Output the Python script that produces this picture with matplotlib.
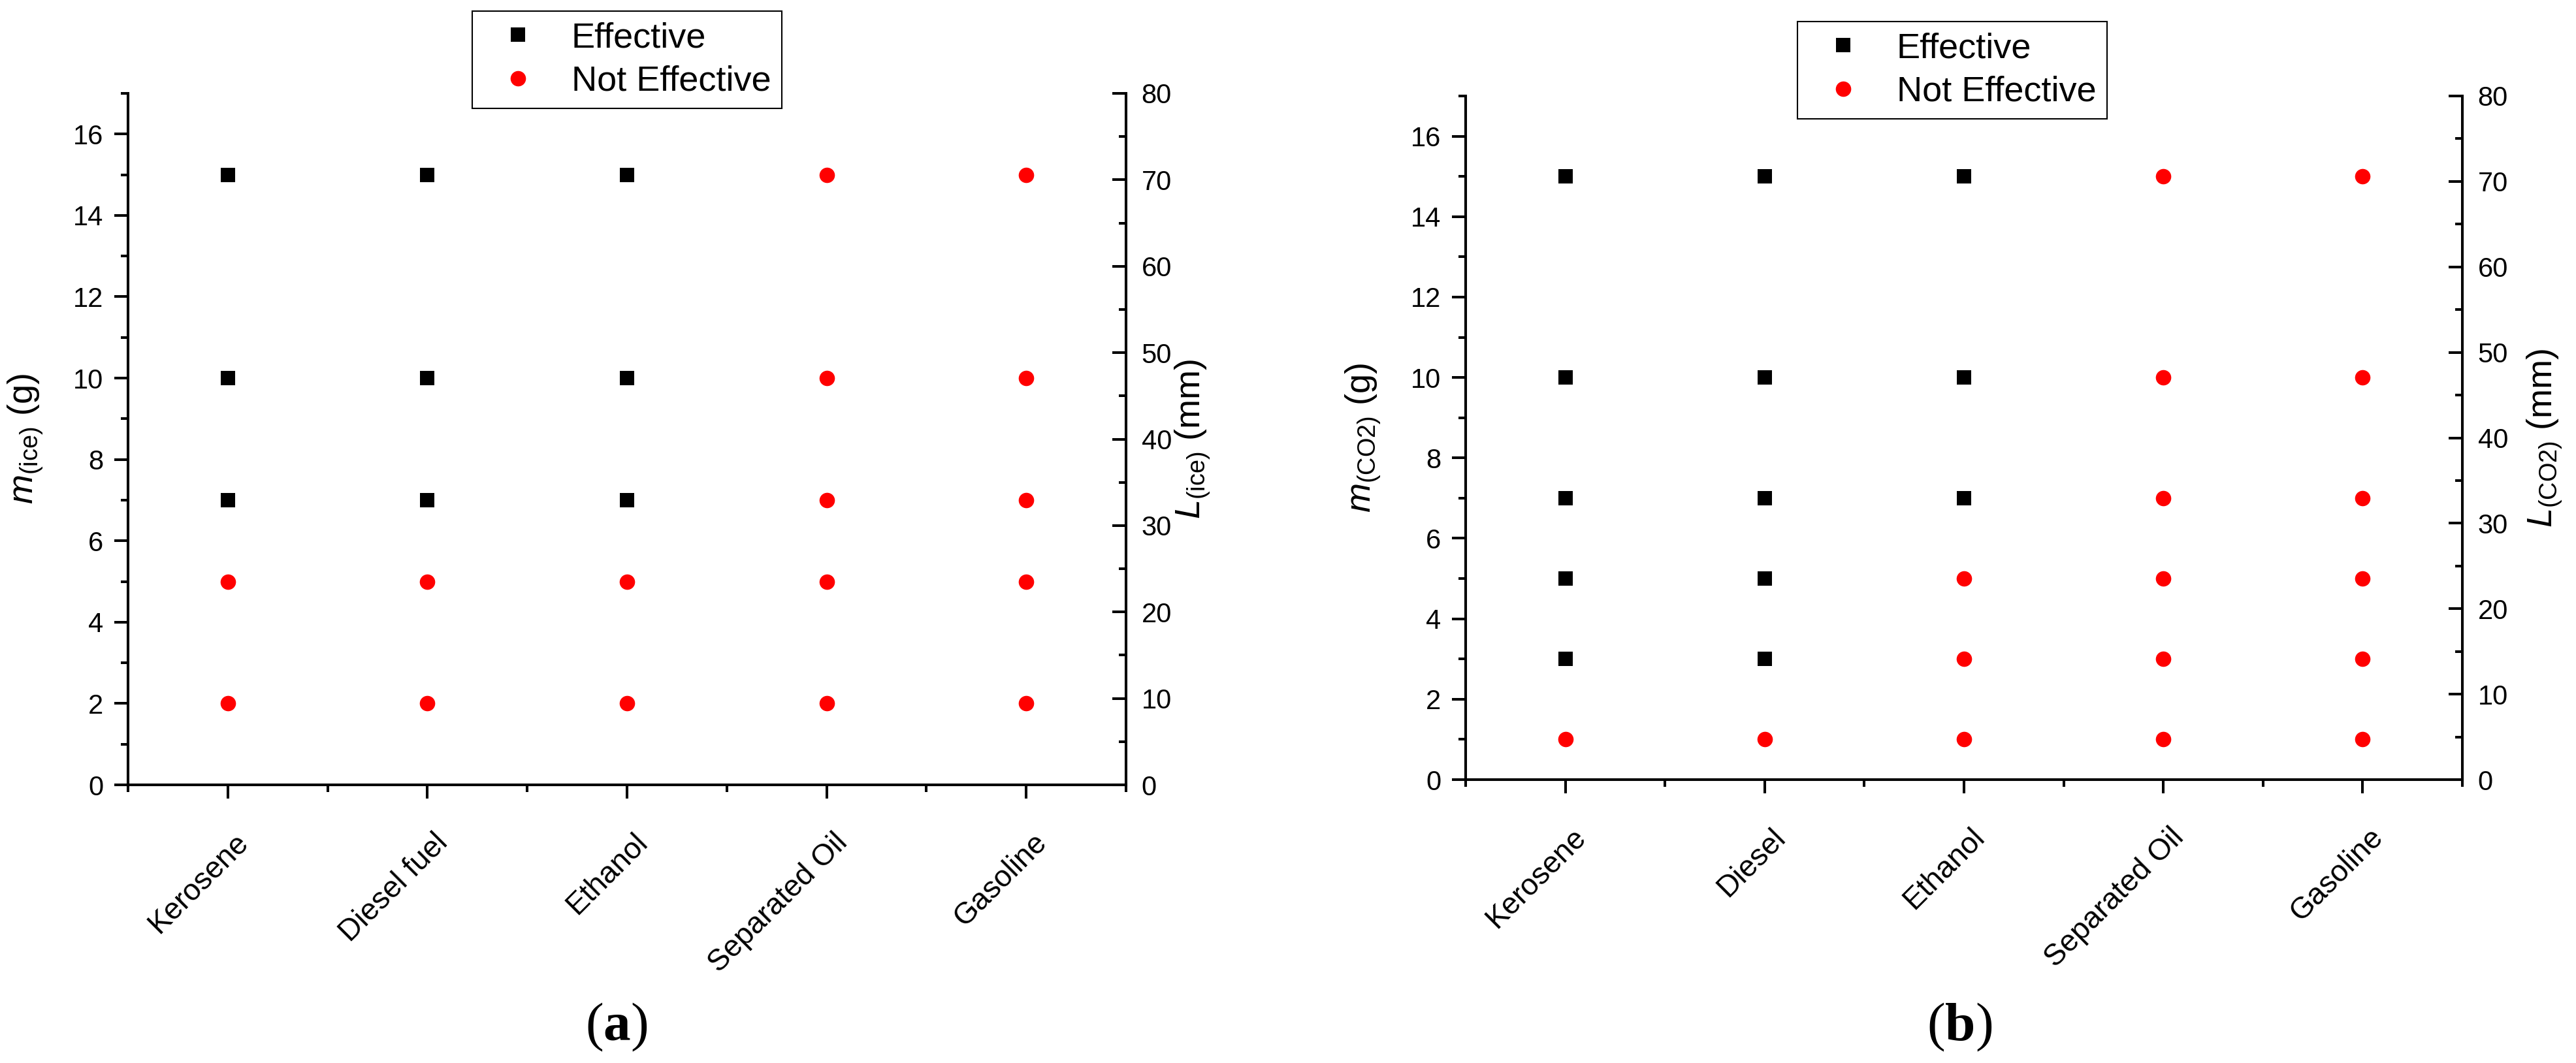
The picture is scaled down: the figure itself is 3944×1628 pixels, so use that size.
import matplotlib
matplotlib.use('Agg')
import matplotlib.pyplot as plt
from matplotlib.ticker import MultipleLocator
from matplotlib.transforms import ScaledTranslation

plt.rcParams['font.family'] = ['Liberation Sans', 'DejaVu Sans']
plt.rcParams['mathtext.fontset'] = 'custom'
plt.rcParams['mathtext.rm'] = 'Liberation Sans'
plt.rcParams['mathtext.it'] = 'Liberation Sans:italic'
plt.rcParams['mathtext.bf'] = 'Liberation Serif:bold'

# data (mass in g)
fuels_a = ['Kerosene', 'Diesel fuel', 'Ethanol', 'Separated Oil', 'Gasoline']
effective_a = [[15, 10, 7], [15, 10, 7], [15, 10, 7], [], []]
not_effective_a = [[5, 2], [5, 2], [5, 2], [15, 10, 7, 5, 2], [15, 10, 7, 5, 2]]

fuels_b = ['Kerosene', 'Diesel', 'Ethanol', 'Separated Oil', 'Gasoline']
effective_b = [[15, 10, 7, 5, 3], [15, 10, 7, 5, 3], [15, 10, 7], [], []]
not_effective_b = [[1], [1], [5, 3, 1], [15, 10, 7, 5, 3, 1], [15, 10, 7, 5, 3, 1]]

W, H = 3944, 1628
fig = plt.figure(figsize=(W / 100, H / 100), dpi=100)

LW = 2.9


def flatten(groups):
    xs, ys = [], []
    for i, g in enumerate(groups):
        for v in g:
            xs.append(i + 1)
            ys.append(v)
    return xs, ys


def panel(rect, fuels, eff, noteff, ylab, ylab2, lab2_x, leg_xy, caption, cap_x):
    ax = fig.add_axes(rect)
    ex, ey = flatten(eff)
    nx, ny = flatten(noteff)
    ax.plot(ex, ey, 's', color='black', ms=16, mew=0, label='Effective')
    ax.plot(nx, ny, 'o', color='#FF0000', ms=17, mew=0, label='Not Effective')
    ax.set_xlim(0.5, 5.5)
    ax.set_ylim(0, 17)
    ax.set_xticks(range(1, 6))
    ax.xaxis.set_minor_locator(MultipleLocator(1, offset=0.5))
    ax.yaxis.set_major_locator(MultipleLocator(2))
    ax.yaxis.set_minor_locator(MultipleLocator(1))
    ax.spines['top'].set_visible(False)
    for s in ax.spines.values():
        s.set_linewidth(LW)
    ax.tick_params(which='major', direction='out', length=15, width=LW, labelsize=30)
    ax.tick_params(which='minor', direction='out', length=8, width=LW)
    ax.tick_params(axis='y', pad=12)
    ax.tick_params(axis='x', which='major', pad=44)
    ax.set_xticklabels(fuels, rotation=45, ha='right', va='center',
                       rotation_mode='anchor', fontsize=33)
    for lab in ax.get_xticklabels():
        lab.set_transform(lab.get_transform() + ScaledTranslation(0.25, 0, fig.dpi_scale_trans))
    ax.set_ylabel(ylab, fontsize=39)
    ax.yaxis.set_label_coords(-0.083, 0.5)

    ax2 = ax.twinx()
    ax2.set_ylim(0, 80)
    ax2.yaxis.set_major_locator(MultipleLocator(10))
    ax2.yaxis.set_minor_locator(MultipleLocator(5))
    ax2.spines['top'].set_visible(False)
    for s in ax2.spines.values():
        s.set_linewidth(LW)
    ax2.tick_params(which='major', direction='in', length=15, width=LW, labelsize=30, pad=17)
    ax2.tick_params(which='minor', direction='in', length=8, width=LW)
    ax2.set_ylabel(ylab2, fontsize=39, rotation=90, va='top')
    ax2.yaxis.set_label_coords(lab2_x, 0.5)

    ax.legend(loc='upper left', bbox_to_anchor=(leg_xy[0] / W, 1 - leg_xy[1] / H),
              bbox_transform=fig.transFigure, fontsize=39, frameon=True, fancybox=False,
              edgecolor='black', framealpha=1, borderpad=0.3, handlelength=2.0,
              handletextpad=0.5, labelspacing=0.3, borderaxespad=0)
    ax.get_legend().get_frame().set_linewidth(1.5)

    fig.text(cap_x / W, 1 - 1573 / H, '(' + r'$\mathbf{' + caption + '}$' + ')',
             ha='center', va='center', fontsize=60, family='Liberation Serif')
    return ax


panel([196 / W, 1 - 1202 / H, (1724 - 196) / W, (1202 - 143) / H],
      fuels_a, effective_a, not_effective_a,
      r'$m_{\mathrm{(ice)}}$ (g)', r'$L_{\mathrm{(ice)}}$ (mm)', 1.047, (723, 17), 'a', 944)
panel([2244 / W, 1 - 1194 / H, (3770 - 2244) / W, (1194 - 147) / H],
      fuels_b, effective_b, not_effective_b,
      r'$m_{\mathrm{(CO2)}}$ (g)', r'$L_{\mathrm{(CO2)}}$ (mm)', 1.063, (2752, 33), 'b', 3000)

fig.savefig('out.png', dpi=100, facecolor='white')
